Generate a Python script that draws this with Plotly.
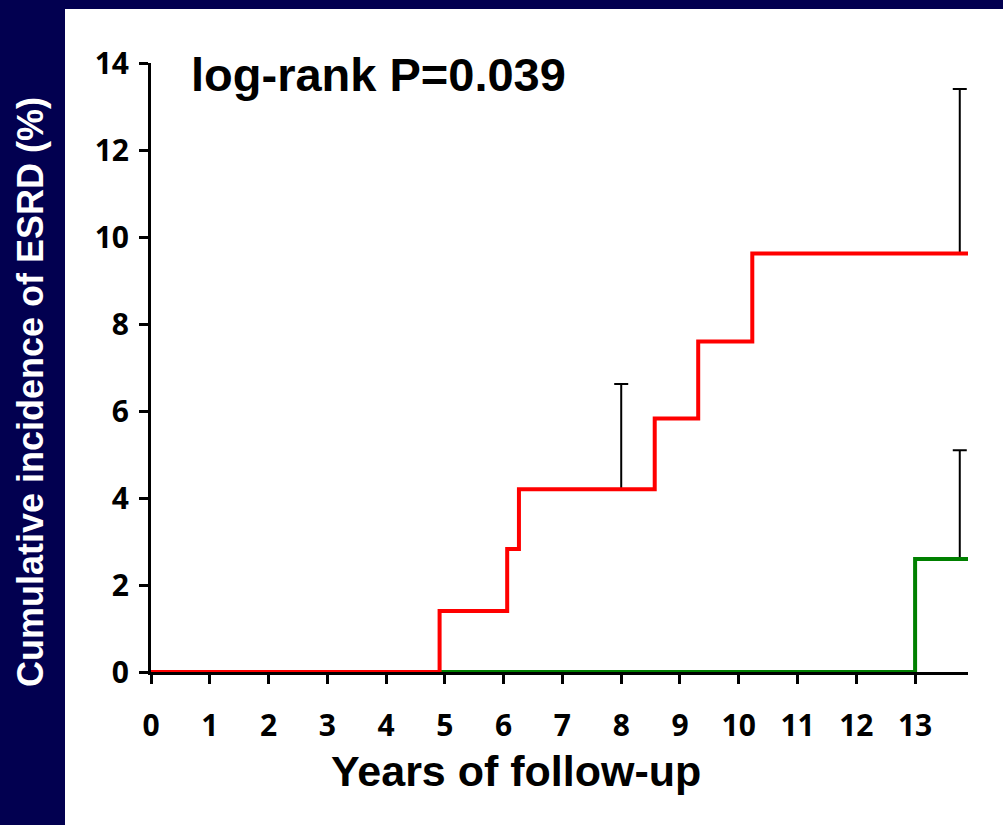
import plotly.graph_objects as go

# Kaplan-Meier style cumulative incidence of ESRD (%)
red_years = [0, 4.91, 6.06, 6.26, 8.57, 9.31, 10.23, 13.9]
red_incidence = [0, 1.4, 2.83, 4.2, 5.83, 7.6, 9.62, 9.62]

green_years = [0, 13.0, 13.9]
green_incidence = [0, 2.6, 2.6]

# upper confidence limits shown as one-sided error bars
ci_years = [8.0, 13.76, 13.76]
ci_base = [4.2, 9.62, 2.6]
ci_upper = [6.62, 13.4, 5.1]

x_ticks = list(range(0, 14))
y_ticks = list(range(0, 15, 2))

NAVY = "#020050"
W, H = 1003, 825
L, R, T, B = 151, 35, 63, 153

fig = go.Figure()

fig.add_trace(go.Scatter(
    x=ci_years, y=ci_base, mode="markers",
    marker=dict(size=1, color="rgba(0,0,0,0)"),
    error_y=dict(type="data", symmetric=False,
                 array=[u - b for u, b in zip(ci_upper, ci_base)],
                 arrayminus=[0] * len(ci_base),
                 color="black", thickness=2, width=7),
    hoverinfo="skip", showlegend=False,
))

fig.add_trace(go.Scatter(
    x=green_years, y=green_incidence, mode="lines",
    line=dict(color="#008000", width=4, shape="hv"),
    showlegend=False,
))
fig.add_trace(go.Scatter(
    x=red_years, y=red_incidence, mode="lines",
    line=dict(color="#ff0000", width=4, shape="hv"),
    showlegend=False,
))

tick_font = dict(family="Open Sans", size=30, color="black", weight="bold")

fig.update_xaxes(
    range=[0, 13.9], tickmode="array", tickvals=x_ticks,
    ticktext=[str(v) for v in x_ticks],
    showline=True, linecolor="black", linewidth=3,
    ticks="outside", ticklen=9, tickwidth=3, tickcolor="black",
    showgrid=False, zeroline=False, tickfont=tick_font,
    ticklabelstandoff=16,
)
fig.update_yaxes(
    range=[0, 14], tickmode="array", tickvals=y_ticks,
    ticktext=[str(v) for v in y_ticks],
    showline=True, linecolor="black", linewidth=3,
    ticks="outside", ticklen=9, tickwidth=3, tickcolor="black",
    showgrid=False, zeroline=False, tickfont=tick_font,
    ticklabelstandoff=4,
)

fig.update_layout(
    width=W, height=H,
    margin=dict(l=L, r=R, t=T, b=B),
    paper_bgcolor=NAVY, plot_bgcolor="white",
    shapes=[dict(type="rect", xref="paper", yref="paper", layer="below",
                 x0=(65 - L) / (W - L - R), x1=1 + R / (W - L - R) + 0.01,
                 y0=-B / (H - T - B) - 0.01, y1=1 + (T - 9) / (H - T - B),
                 fillcolor="white", line=dict(width=0))],
    annotations=[
        dict(text="log-rank P=0.039", xref="paper", yref="paper",
             x=(189 - L) / (W - L - R), xanchor="left",
             y=1 + (T - 75) / (H - T - B), yanchor="middle",
             showarrow=False,
             font=dict(family="Liberation Sans", size=47, color="black", weight="bold")),
        dict(text="Years of follow-up", xref="paper", yref="paper",
             x=(516 - L) / (W - L - R), xanchor="center",
             y=-(771 - (H - B)) / (H - T - B), yanchor="middle",
             showarrow=False,
             font=dict(family="Liberation Sans", size=43, color="black", weight="bold")),
        dict(text="Cumulative incidence of ESRD (%)", xref="paper", yref="paper",
             x=(30 - L) / (W - L - R), xanchor="center",
             y=1 - (392 - T) / (H - T - B), yanchor="middle",
             textangle=-90, showarrow=False,
             font=dict(family="Liberation Sans", size=36, color="white", weight="bold")),
    ],
)

fig.write_html("out.html")
